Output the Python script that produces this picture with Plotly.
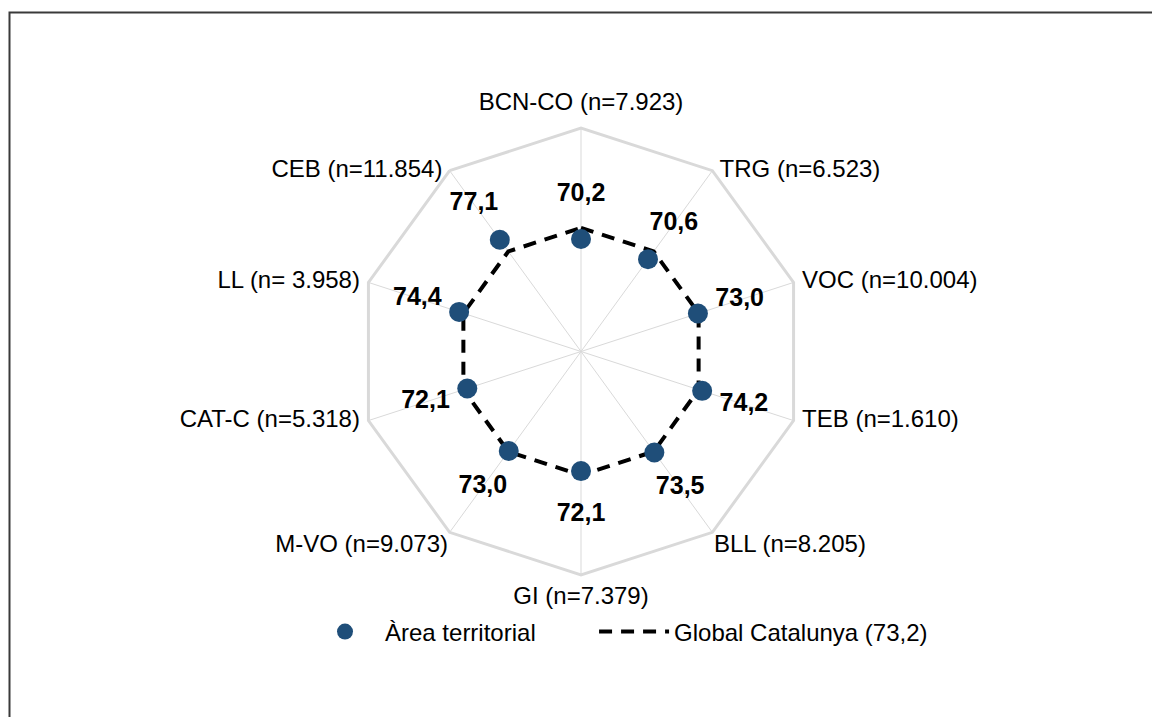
import plotly.graph_objects as go

categories = ["BCN-CO (n=7.923)", "TRG (n=6.523)", "VOC (n=10.004)", "TEB (n=1.610)",
              "BLL (n=8.205)", "GI (n=7.379)", "M-VO (n=9.073)", "CAT-C (n=5.318)",
              "LL (n= 3.958)", "CEB (n=11.854)"]
area_values = [70.2, 70.6, 73.0, 74.2, 73.5, 72.1, 73.0, 72.1, 74.4, 77.1]
global_value = 73.2
global_values = [global_value] * len(categories)
label_texts = [f"{v:.1f}".replace(".", ",") for v in area_values]

radial_range = [40, 100]

# styling for the category labels (placed at the outer vertices)
cat_positions = ["top center", "middle right", "middle right", "middle right", "bottom right",
                 "bottom center", "bottom left", "middle left", "middle left", "middle left"]
cat_offsets = [18, 10, 12, 12, 1, 16, 1, 12, 12, 10]  # invisible marker sizes -> text offset

W, H = 1152, 717
cx, cy, R = 581, 351.5, 223.5
label_offset = 11.8  # radial units beyond the dot for the value labels

FONT = "Liberation Sans, Arial, sans-serif"
BLUE = "#1f4e79"
GRID = "#d9d9d9"

fig = go.Figure()

fig.add_trace(go.Scatterpolar(
    r=global_values + global_values[:1],
    theta=categories + categories[:1],
    mode="lines",
    name="Global Catalunya (73,2)",
    line=dict(color="black", width=4, dash="13px,9px"),
    legendrank=2,
    hoverinfo="skip",
))

fig.add_trace(go.Scatterpolar(
    r=area_values,
    theta=categories,
    mode="markers",
    name="Àrea territorial" + "\u00a0" * 8,
    marker=dict(color=BLUE, size=20),
    legendrank=1,
    hoverinfo="skip",
))

fig.add_trace(go.Scatterpolar(
    r=[v + label_offset for v in area_values],
    theta=categories,
    mode="text",
    text=label_texts,
    textfont=dict(family=FONT, size=25, color="black", weight="bold"),
    showlegend=False,
    hoverinfo="skip",
))

fig.add_trace(go.Scatterpolar(
    r=[radial_range[1]] * len(categories),
    theta=categories,
    mode="markers+text",
    text=categories,
    textposition=cat_positions,
    marker=dict(size=cat_offsets, opacity=0, color="white"),
    textfont=dict(family=FONT, size=24, color="black"),
    cliponaxis=False,
    showlegend=False,
    hoverinfo="skip",
))

fig.update_layout(
    width=W, height=H,
    margin=dict(l=0, r=0, t=0, b=0),
    paper_bgcolor="white",
    plot_bgcolor="white",
    font=dict(family=FONT, size=24, color="black"),
    polar=dict(
        domain=dict(x=[(cx - R) / W, (cx + R) / W],
                    y=[1 - (cy + R) / H, 1 - (cy - R) / H]),
        bgcolor="white",
        gridshape="linear",
        radialaxis=dict(visible=False, range=radial_range, showgrid=False),
        angularaxis=dict(
            rotation=90, direction="clockwise",
            showline=True, linecolor=GRID, linewidth=3,
            showgrid=True, gridcolor=GRID, gridwidth=1,
            ticks="", showticklabels=False,
        ),
    ),
    legend=dict(
        orientation="h", x=305 / W, xanchor="left",
        y=1 - 632 / H, yanchor="middle",
        font=dict(family=FONT, size=24, color="black"),
        itemwidth=70,
        bgcolor="rgba(0,0,0,0)",
    ),
    showlegend=True,
    shapes=[dict(
        type="rect", xref="paper", yref="paper",
        x0=9.5 / W, x1=1.05, y0=-0.05, y1=1 - 12.5 / H,
        line=dict(color="#3a3a3a", width=2), fillcolor="rgba(0,0,0,0)",
        layer="above",
    )],
)

fig.write_html(
    "out.html",
    config={"displayModeBar": False},
    post_script="document.body.style.margin='0';document.body.style.overflow='hidden';",
)
